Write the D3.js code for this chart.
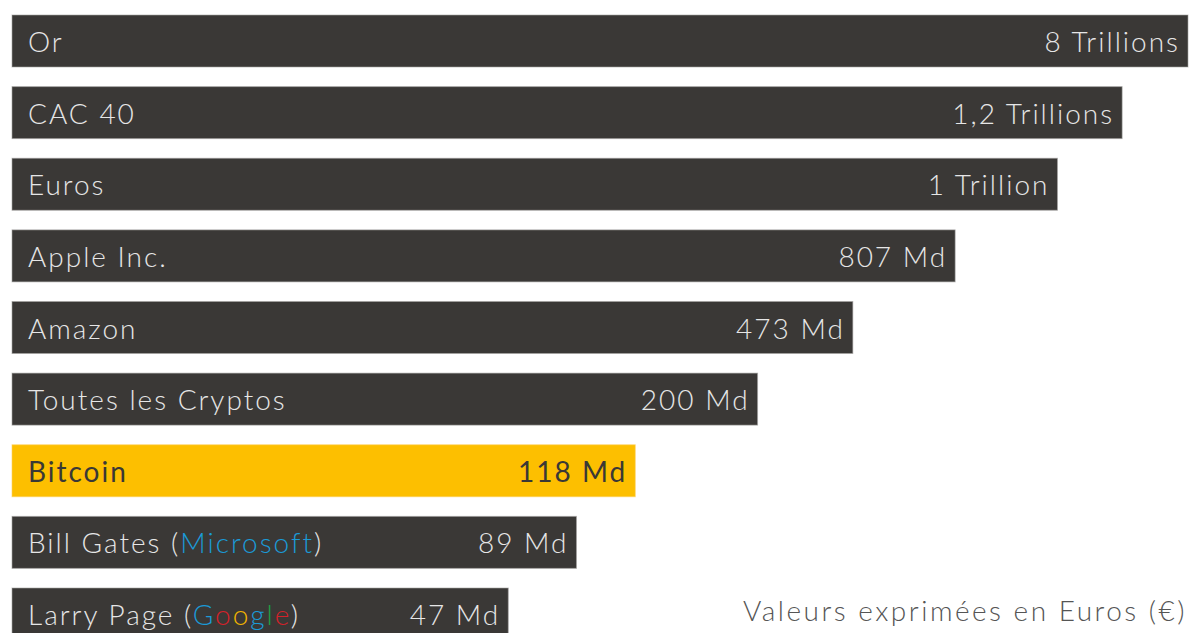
<!DOCTYPE html>
<html>
  <head>
    <script src="https://d3js.org/d3.v7.min.js"></script>
    <meta charset="utf-8">
    <title>Capitalisations</title>
    <style>
      body {
        margin: 0;
        background-color: #ffffff;
      }

      text {
        font-family: "Lato", "Open Sans", sans-serif;
        font-weight: 300;
        font-size: 28px;
        letter-spacing: 2px;
      }
    </style>
  </head>
  <body>
    <script>
      // Data (bars are not drawn to scale in the original)
      const names = ["Or", "CAC 40", "Euros", "Apple Inc.", "Amazon", "Toutes les Cryptos", "Bitcoin", "Bill Gates", "Larry Page"];
      const valueLabels = ["8 Trillions", "1,2 Trillions", "1 Trillion", "807 Md", "473 Md", "200 Md", "118 Md", "89 Md", "47 Md"];
      const valuesEur = [8000e9, 1200e9, 1000e9, 807e9, 473e9, 200e9, 118e9, 89e9, 47e9];
      // visual bar length of each row, as a score out of 100
      const barScore = [100, 94.4, 88.9, 80.2, 71.5, 63.4, 53.0, 48.0, 42.2];
      // company in brackets after the name, split into coloured letters
      const companies = [null, null, null, null, null, null, null,
        [["Microsoft", "#1b9ad6"]],
        [["G", "#1b9ad6"], ["o", "#d3222a"], ["o", "#f0b400"], ["g", "#1b9ad6"], ["l", "#1fa045"], ["e", "#d3222a"]]];
      const highlight = "Bitcoin";
      const footnote = "Valeurs exprimées en Euros (€)";

      const width = 1189, height = 633;

      const svg = d3.select("body")
        .append("svg")
        .attr("width", width)
        .attr("height", height);

      const x = d3.scaleLinear()
        .domain([0, 100])
        .range([12, 1188]);

      const y = d3.scaleBand()
        .domain(names)
        .range([15, 640])
        .paddingInner(0.274)
        .paddingOuter(0)
        .align(0);

      const rows = svg.selectAll("g.row")
        .data(names.map((n, i) => ({ name: n, label: valueLabels[i], value: valuesEur[i], score: barScore[i], company: companies[i] })))
        .enter()
        .append("g")
        .attr("class", "row");

      // bars
      rows.append("rect")
        .attr("x", x(0))
        .attr("y", d => y(d.name))
        .attr("width", d => x(d.score) - x(0))
        .attr("height", y.bandwidth())
        .attr("fill", d => d.name === highlight ? "#fdbf00" : "#3a3836")
        .attr("stroke", d => d.name === highlight ? "#fdd060" : "#a5a3a1")
        .attr("stroke-width", 1)
        .attr("stroke-opacity", 0.6);

      // names on the left
      const nameText = rows.append("text")
        .attr("x", x(0) + 16)
        .attr("y", d => y(d.name) + 37)
        .attr("fill", d => d.name === highlight ? "#3a3836" : "#e6e6e6")
        .style("font-weight", d => d.name === highlight ? 400 : null);

      nameText.append("tspan").text(d => d.name);
      nameText.filter(d => d.company).each(function(d) {
        const t = d3.select(this);
        t.append("tspan").text(" (");
        d.company.forEach(p => t.append("tspan").attr("fill", p[1]).text(p[0]));
        t.append("tspan").text(")");
      });

      // values at the end of each bar
      rows.append("text")
        .attr("x", d => x(d.score) - 8)
        .attr("y", d => y(d.name) + 37)
        .attr("text-anchor", "end")
        .attr("fill", d => d.name === highlight ? "#3a3836" : "#e6e6e6")
        .style("font-weight", d => d.name === highlight ? 400 : null)
        .text(d => d.label);

      svg.append("text")
        .attr("x", 1187)
        .attr("y", 621)
        .attr("text-anchor", "end")
        .attr("fill", "#555555")
        .style("letter-spacing", "2.5px")
        .text(footnote);
    </script>
  </body>
</html>
